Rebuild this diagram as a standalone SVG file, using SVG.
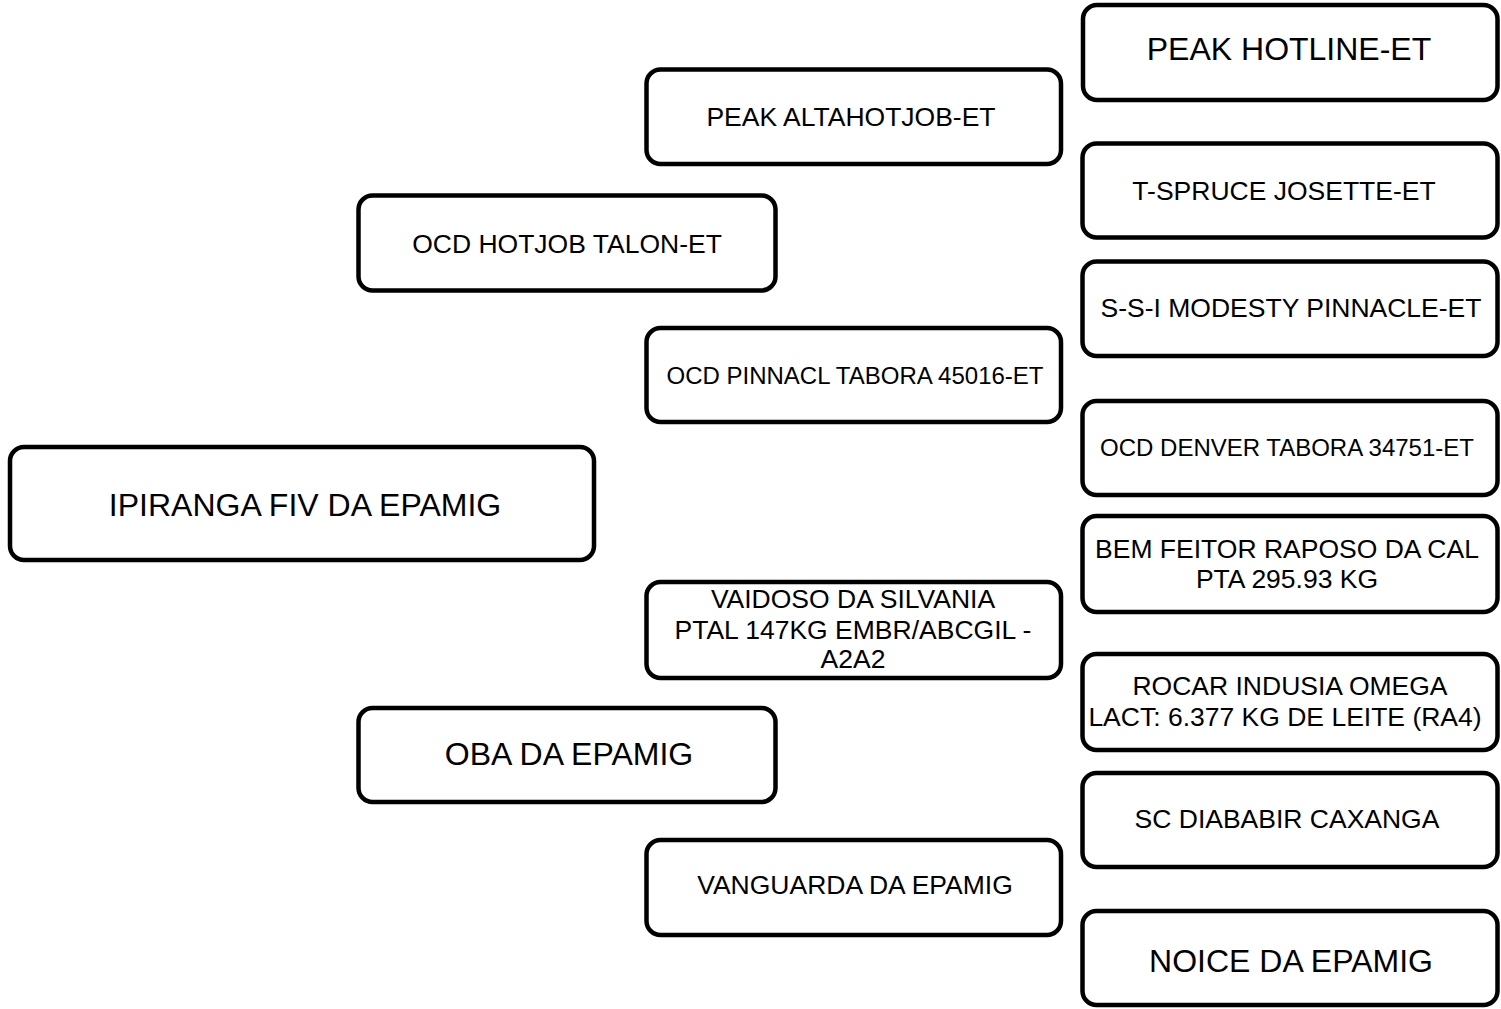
<svg xmlns="http://www.w3.org/2000/svg" width="1501" height="1009" viewBox="0 0 1501 1009">
<style>
.box{fill:#fff;stroke:#000;stroke-width:4.5}
text{font-family:"Liberation Sans",Arial,sans-serif;fill:#000;text-anchor:middle}
.l{font-size:32px}
.m{font-size:26.5px}
.s{font-size:24px}
</style>
<rect width="1501" height="1009" fill="#fff"/>
<g id="connectors"></g>
<g id="n-ipiranga"><rect class="box" x="10" y="447" width="584" height="113" rx="14"/><text class="l" x="305" y="516">IPIRANGA FIV DA EPAMIG</text></g>
<g id="n-ocd-hotjob"><rect class="box" x="358.5" y="195.5" width="417" height="95" rx="14"/><text class="m" x="567" y="252.5">OCD HOTJOB TALON-ET</text></g>
<g id="n-oba"><rect class="box" x="358.5" y="708" width="417" height="94" rx="14"/><text class="l" x="569" y="764.5">OBA DA EPAMIG</text></g>
<g id="n-peak-alta"><rect class="box" x="646.5" y="69.5" width="414.5" height="94.5" rx="14"/><text class="m" x="851" y="125.5">PEAK ALTAHOTJOB-ET</text></g>
<g id="n-ocd-pinnacl"><rect class="box" x="646.5" y="328" width="414.5" height="94" rx="14"/><text class="s" x="855" y="383.6">OCD PINNACL TABORA 45016-ET</text></g>
<g id="n-vaidoso"><rect class="box" x="646.5" y="582" width="414.5" height="96" rx="14"/><text class="m" x="853"><tspan x="853" y="608">VAIDOSO DA SILVANIA</tspan><tspan x="853" y="638.5">PTAL 147KG EMBR/ABCGIL -</tspan><tspan x="853" y="668">A2A2</tspan></text></g>
<g id="n-vanguarda"><rect class="box" x="646.5" y="840" width="414.5" height="95" rx="14"/><text class="m" x="855" y="893.5">VANGUARDA DA EPAMIG</text></g>
<g id="n-peak-hotline"><rect class="box" x="1083" y="5" width="414.5" height="95" rx="14"/><text class="l" x="1289" y="60">PEAK HOTLINE-ET</text></g>
<g id="n-tspruce"><rect class="box" x="1082.5" y="143.5" width="415" height="94" rx="14"/><text class="m" x="1284" y="199.5">T-SPRUCE JOSETTE-ET</text></g>
<g id="n-ssi"><rect class="box" x="1082.5" y="261.5" width="415" height="94.5" rx="14"/><text class="m" x="1291" y="316.5">S-S-I MODESTY PINNACLE-ET</text></g>
<g id="n-ocd-denver"><rect class="box" x="1082.5" y="401" width="415" height="94" rx="14"/><text class="s" x="1287" y="455.6">OCD DENVER TABORA 34751-ET</text></g>
<g id="n-bem-feitor"><rect class="box" x="1082.5" y="516" width="415" height="96" rx="14"/><text class="m" x="1287"><tspan x="1287" y="557.5">BEM FEITOR RAPOSO DA CAL</tspan><tspan x="1287" y="587.5">PTA 295.93 KG</tspan></text></g>
<g id="n-rocar"><rect class="box" x="1082.5" y="654" width="415" height="96" rx="14"/><text class="m" x="1290"><tspan x="1290" y="695">ROCAR INDUSIA OMEGA</tspan><tspan x="1285" y="726">LACT: 6.377 KG DE LEITE (RA4)</tspan></text></g>
<g id="n-sc-diababir"><rect class="box" x="1082.5" y="773" width="415" height="94" rx="14"/><text class="m" x="1287" y="827.5">SC DIABABIR CAXANGA</text></g>
<g id="n-noice"><rect class="box" x="1082.5" y="911" width="415" height="94" rx="14"/><text class="l" x="1291" y="971.5">NOICE DA EPAMIG</text></g>
</svg>
